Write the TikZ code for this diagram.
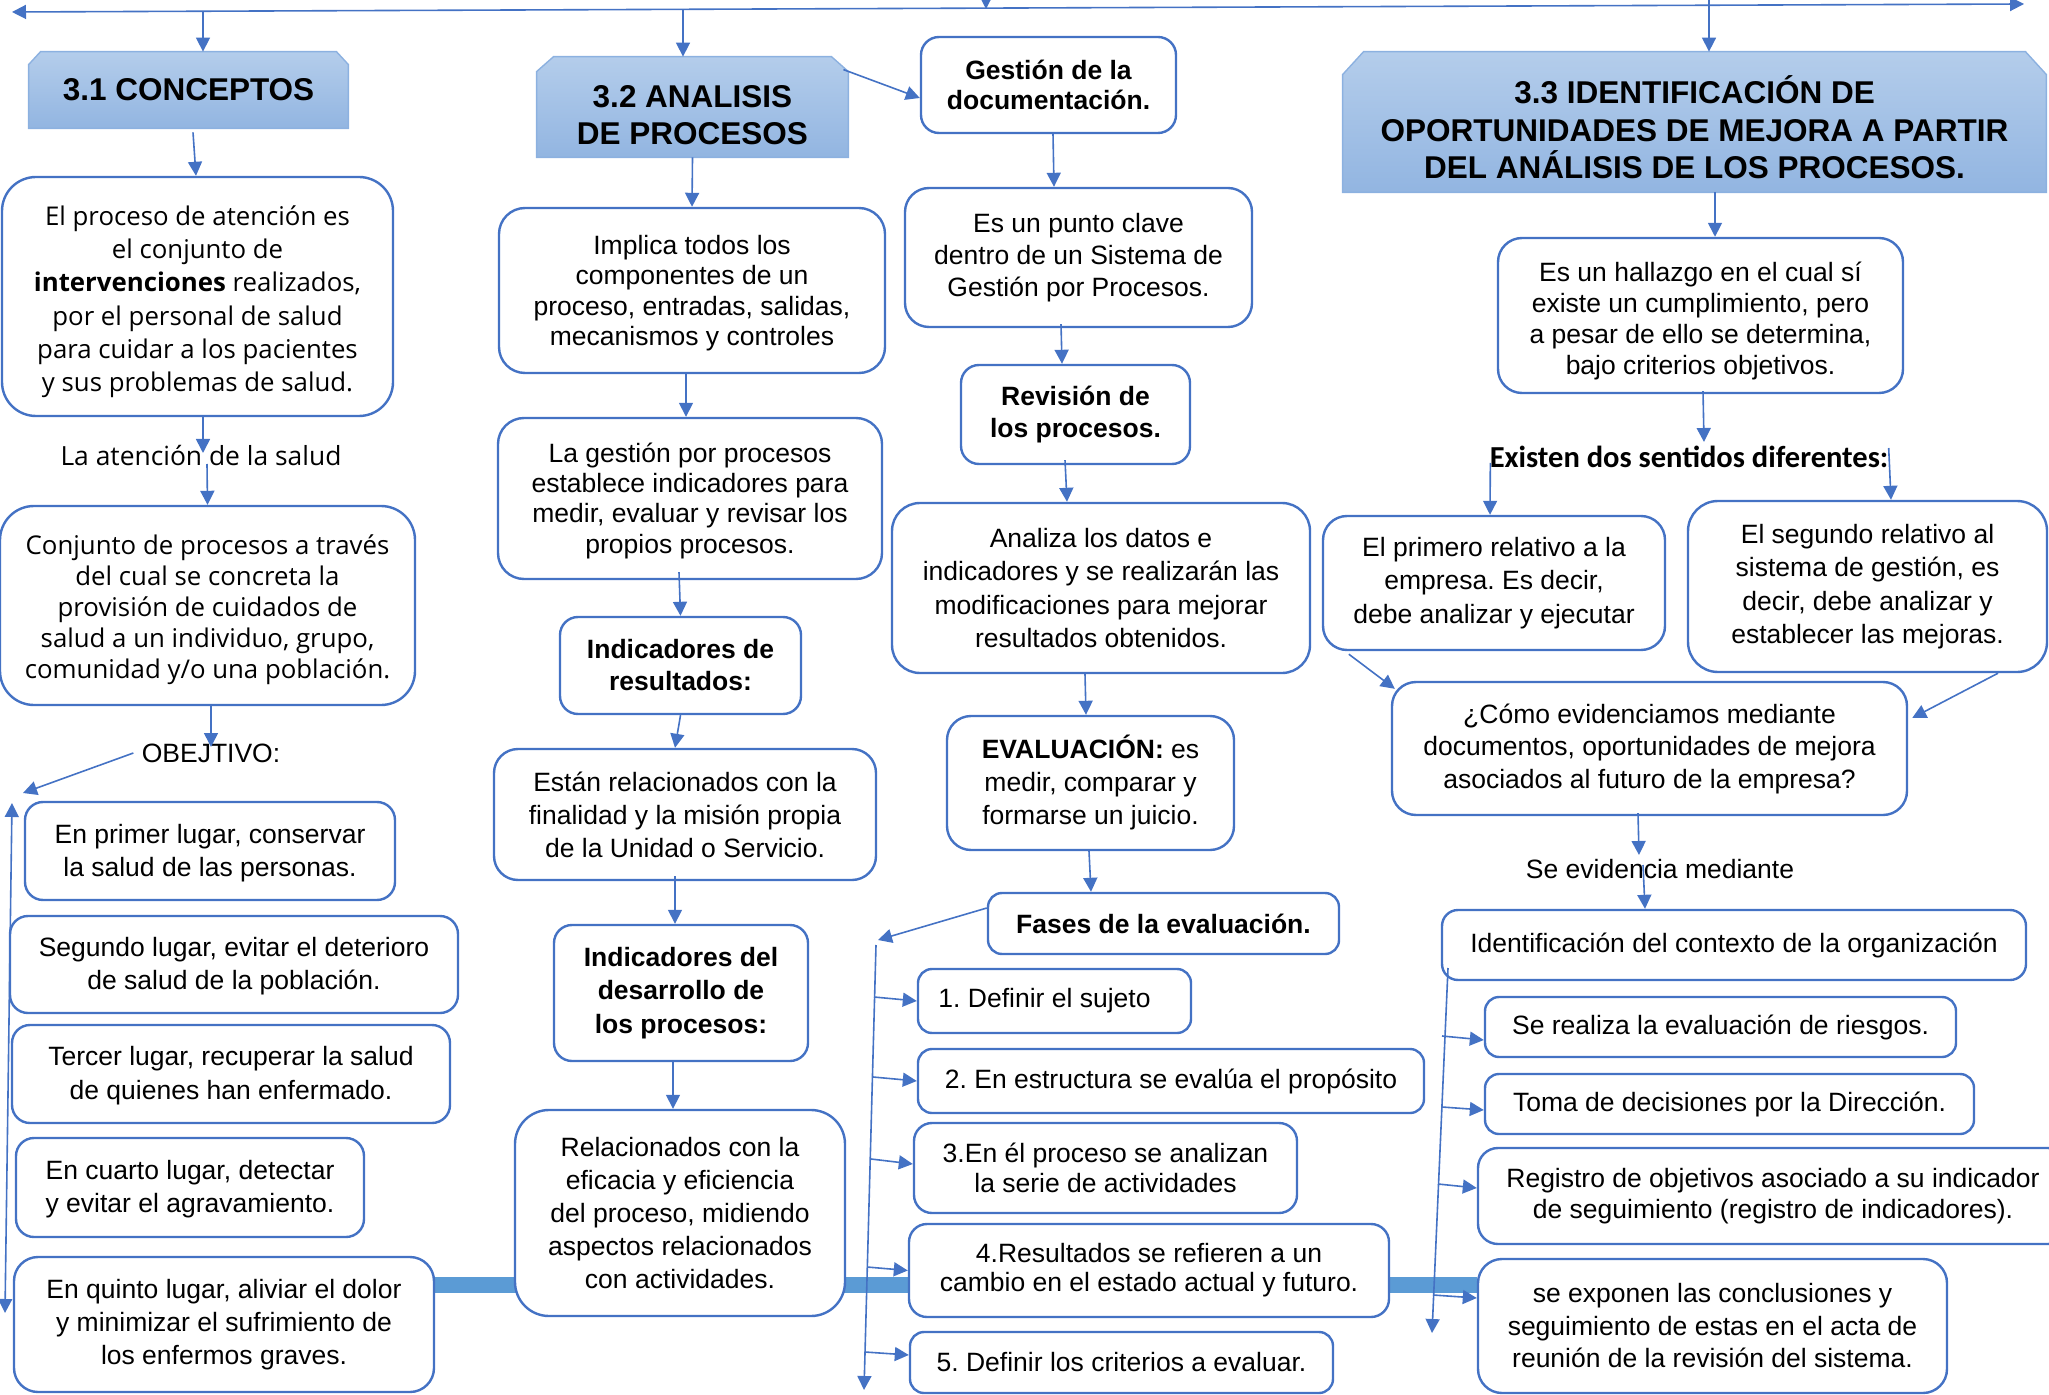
\documentclass[tikz,border=0pt]{standalone}
\usepackage{fontspec}
\setmainfont{Liberation Sans}
\newfontfamily\osans{Open Sans}
\newfontfamily\carl{Carlito}
\usetikzlibrary{arrows.meta,calc,backgrounds}
\frenchspacing
\definecolor{bblue}{HTML}{4472C4}
\definecolor{barblue}{HTML}{5B9BD5}
\definecolor{hdtop}{HTML}{B4CDEB}
\definecolor{hdbot}{HTML}{92B5E1}
\definecolor{hdline}{HTML}{8CB1E0}
\newcommand\bannerpath[3]{%
  \path[top color=hdtop,bottom color=hdbot,draw=hdline,line width=0.7pt]
  ([yshift=-#3]#1.north west) -- ([xshift=#2]#1.north west) -- ([xshift=-#2]#1.north east)
  -- ([yshift=-#3]#1.north east) -- (#1.south east) -- (#1.south west) -- cycle;}
\begin{document}
\begin{tikzpicture}[x=0.5pt,y=-0.5pt,
  box/.style={draw=bblue, line width=1.2pt, fill=white, rounded corners=9pt, align=center, inner sep=0pt,
    font=\fontsize{13.25pt}{16.5pt}\selectfont},
  sz/.style 2 args={minimum width=#1*0.5pt, minimum height=#2*0.5pt},
  ls/.style={font=\fontsize{13.25pt}{#1}\selectfont},
  bls/.style={font=\fontsize{13.25pt}{#1}\selectfont\bfseries},
  os/.style={font=\osans\fontsize{12.9pt}{#1}\selectfont},
  hd/.style={inner sep=0pt, align=center, font=\fontsize{15.75pt}{18.75pt}\selectfont\bfseries},
  lbl/.style={inner sep=0pt, font=\fontsize{13.25pt}{16.5pt}\selectfont},
  arr/.style={draw=bblue, line width=0.8pt, -{Triangle[length=7pt,width=7pt]}},
  arr2/.style={draw=bblue, line width=0.8pt, {Triangle[length=7pt,width=7pt]}-{Triangle[length=7pt,width=7pt]}},
  bar/.style={draw=barblue, line width=8pt}
]
\useasboundingbox (0,0) rectangle (2049,1395);
\clip (0,0) rectangle (2049,1395);

% headings
\node[hd, sz={319}{76}] (h31) at (188.5,90) {3.1 CONCEPTOS};
\node[hd, sz={311}{100}] (h32) at (692.5,107) {\rule{0pt}{19.3pt}3.2 ANALISIS\\DE PROCESOS};
\node[hd, sz={703}{140}] (h33) at (1694.5,122) {\rule{0pt}{19.4pt}3.3 IDENTIFICACIÓN DE\\OPORTUNIDADES DE MEJORA A PARTIR\\DEL ANÁLISIS DE LOS PROCESOS.};

% column 1
\node[box, sz={391}{239}, rounded corners=17pt, os=16.65pt] (b1) at (197.5,296.5)
  {\rule{0pt}{15pt}El proceso de atención es\\el conjunto de\\\textbf{intervenciones} realizados,\\por el personal de salud\\para cuidar a los pacientes\\y sus problemas de salud.};
\node[lbl, font=\osans\fontsize{13.2pt}{16pt}\selectfont] (lab1) at (201,456) {La atención de la salud};
\node[box, sz={415}{199}, rounded corners=17pt, os=15.5pt] (b2) at (207.5,605.5)
  {\rule{0pt}{14.2pt}Conjunto de procesos a través\\del cual se concreta la\\provisión de cuidados de\\salud a un individuo, grupo,\\comunidad y/o una población.};
\node[lbl] (obj) at (211,753) {OBEJTIVO:};
\node[box, sz={370}{98}, ls=16.75pt] (c1) at (210,851) {\rule{0pt}{11.8pt}En primer lugar, conservar\\la salud de las personas.};
\node[box, sz={448}{97}, ls=16.75pt] (c2) at (234,964.5) {\rule{0pt}{11.3pt}Segundo lugar, evitar el deterioro\\de salud de la población.};
\node[box, sz={438}{98}, ls=16.75pt] (c3) at (231,1074) {\rule{0pt}{11.3pt}Tercer lugar, recuperar la salud\\de quienes han enfermado.};
\node[box, sz={348}{99}, ls=16.75pt] (c4) at (190,1187.5) {\rule{0pt}{11.3pt}En cuarto lugar, detectar\\y evitar el agravamiento.};
\node[box, sz={420}{135}, rounded corners=12pt, ls=16.5pt] (c5) at (224,1324.5) {En quinto lugar, aliviar el dolor\\y minimizar el sufrimiento de\\los enfermos graves.};

% column 2
\node[box, sz={386}{165}, rounded corners=13pt, ls=15.25pt] (i1) at (692,290.5) {\rule{0pt}{12.5pt}Implica todos los\\componentes de un\\proceso, entradas, salidas,\\mecanismos y controles};
\node[box, sz={384}{161}, rounded corners=13pt, ls=15.2pt] (i2) at (690,498.5) {\rule{0pt}{12pt}La gestión por procesos\\establece indicadores para\\medir, evaluar y revisar los\\propios procesos.};
\node[box, sz={241}{97}, bls=16pt] (i3) at (680.5,665.5) {Indicadores de\\resultados:};
\node[box, sz={382}{131}, rounded corners=12pt, ls=16.5pt] (i4) at (685,814.5) {Están relacionados con la\\finalidad y la misión propia\\de la Unidad o Servicio.};
\node[box, sz={254}{136}, bls=16.75pt] (i5) at (681,993) {Indicadores del\\desarrollo de\\los procesos:};
\node[box, sz={330}{206}, rounded corners=17pt, ls=16.5pt] (i6) at (680,1213) {Relacionados con la\\eficacia y eficiencia\\del proceso, midiendo\\aspectos relacionados\\con actividades.};

% column 3
\node[box, sz={255}{96}, bls=15pt] (g1) at (1048.5,85) {Gestión de la\\documentación.};
\node[box, sz={347}{139}, rounded corners=12pt, ls=16pt] (g2) at (1078.5,257.5) {Es un punto clave\\dentro de un Sistema de\\Gestión por Procesos.};
\node[box, sz={229}{99}, bls=16pt] (g3) at (1075.5,414.5) {Revisión de\\los procesos.};
\node[box, sz={418}{170}, rounded corners=14pt, ls=16.65pt] (g4) at (1101,588) {Analiza los datos e\\indicadores y se realizarán las\\modificaciones para mejorar\\resultados obtenidos.};
\node[box, sz={287}{134}, rounded corners=12pt, ls=16.5pt] (g5) at (1090.5,783) {\textbf{EVALUACIÓN:} es\\medir, comparar y\\formarse un juicio.};
\node[box, sz={351}{61}, rounded corners=7pt, bls=16pt] (g6) at (1163.5,923.5) {Fases de la evaluación.};
\node[box, sz={273}{64}, rounded corners=7pt] (f1) at (1054.5,1001) {1. Definir el sujeto\hspace*{10pt}};
\node[box, sz={506}{64}, rounded corners=7pt] (f2) at (1171,1081) {2. En estructura se evalúa el propósito};
\node[box, sz={383}{90}, rounded corners=9pt, ls=15pt] (f3) at (1105.5,1168) {3.En él proceso se analizan\\la serie de actividades};
\node[box, sz={480}{93}, rounded corners=9pt, ls=14.5pt] (f4) at (1149,1270.5) {4.Resultados se refieren a un\\cambio en el estado actual y futuro.};
\node[box, sz={423}{61}, rounded corners=7pt] (f5) at (1121.5,1362.5) {5. Definir los criterios a evaluar.};

% column 4
\node[box, sz={405}{155}, rounded corners=12pt, ls=15.5pt] (r1) at (1700.5,315.5) {\rule{0pt}{14.8pt}Es un hallazgo en el cual sí\\existe un cumplimiento, pero\\a pesar de ello se determina,\\bajo criterios objetivos.};
\node[lbl, font=\carl\bfseries\fontsize{15.25pt}{18pt}\selectfont] (lab2) at (1689,457) {Existen dos sentidos diferentes:};
\node[box, sz={342}{134}, rounded corners=12pt, ls=16.75pt] (r2) at (1494,583) {El primero relativo a la\\empresa. Es decir,\\debe analizar y ejecutar};
\node[box, sz={359}{171}, rounded corners=15pt, ls=16.65pt] (r3) at (1867.5,586.5) {El segundo relativo al\\sistema de gestión, es\\decir, debe analizar y\\establecer las mejoras.};
\node[box, sz={515}{133}, rounded corners=12pt, ls=16.25pt] (r4) at (1649.5,748.5) {¿Cómo evidenciamos mediante\\documentos, oportunidades de mejora\\asociados al futuro de la empresa?};
\node[lbl] (lab3) at (1660,869) {Se evidencia mediante};
\node[box, sz={584}{70}, rounded corners=8pt] (r5) at (1734,945) {Identificación del contexto de la organización};
\node[box, sz={471}{60}, rounded corners=7pt] (r6) at (1720.5,1027) {Se realiza la evaluación de riesgos.};
\node[box, sz={489}{60}, rounded corners=7pt] (r7) at (1729.5,1104) {Toma de decisiones por la Dirección.};
\node[box, sz={590}{96}, rounded corners=10pt, ls=15.5pt] (r8) at (1773,1196) {Registro de objetivos asociado a su indicador\\de seguimiento (registro de indicadores).};
\node[box, sz={469}{134}, rounded corners=12pt, ls=16.25pt] (r9) at (1712.5,1326) {se exponen las conclusiones y\\seguimiento de estas en el acta de\\reunión de la revisión del sistema.};

% background: banners and bar
\begin{scope}[on background layer]
  \draw[bar] ([yshift=19.75pt]c5.east) -- ([yshift=20.5pt]r9.west);
  \bannerpath{h31}{6pt}{6.5pt}
  \bannerpath{h32}{8.5pt}{7.5pt}
  \bannerpath{h33}{10.5pt}{11.5pt}
\end{scope}

% free connector ends
\coordinate (tl) at (12,12);
\coordinate (tr) at (2024,4);
\coordinate (t1) at (203,11.3);
\coordinate (t2) at (683,9.4);
\coordinate (t3) at (1709,-2);
\coordinate (t4a) at (986,-12);
\coordinate (t4b) at (986,9);
\coordinate (objL) at (23,793);
\coordinate (vL1) at (12,803);
\coordinate (vL2) at (5,1313);
\coordinate (fT) at (878,940);
\coordinate (fV1) at (876,945);
\coordinate (fV2) at (864,1390);
\coordinate (fb1) at (874,997);
\coordinate (fb2) at (873,1077);
\coordinate (fb3) at (871,1159);
\coordinate (fb4) at (867,1267);
\coordinate (fb5) at (865,1352);
\coordinate (rV1) at (1448,968);
\coordinate (rV2) at (1432,1333);
\coordinate (rb1) at (1442,1036);
\coordinate (rb2) at (1442,1107);
\coordinate (rb3) at (1438,1184);
\coordinate (rb4) at (1433,1295);

% connectors
\draw[arr2] (tl) -- (tr);
\draw[arr] (t1) -- ([xshift=7.25pt]h31.north);
\draw[arr] (t2) -- ([xshift=-4.75pt]h32.north);
\draw[arr] (t3) -- ([xshift=7.25pt]h33.north);
\draw[arr] (t4a) -- (t4b);
\draw[arr] ([xshift=-2.5pt,yshift=-6.5pt]h32.north east) -- ([yshift=-6.5pt]g1.west);

\draw[arr] ([xshift=2.25pt,yshift=-2pt]h31.south) -- ([xshift=-0.75pt]b1.north);
\draw[arr] ([xshift=2.75pt]b1.south) -- ([xshift=1pt,yshift=1.5pt]lab1.center);
\draw[arr] ([xshift=3pt,yshift=-4pt]lab1.center) -- (b2.north);
\draw[arr] ([xshift=1.75pt]b2.south) -- ([yshift=3pt]obj.center);
\draw[arr] ([xshift=-4pt]obj.west) -- (objL);
\draw[arr2] (vL1) -- (vL2);

\draw[arr] (h32.south) -- (i1.north);
\draw[arr] ([xshift=-3pt]i1.south) -- ([xshift=-2pt]i2.north);
\draw[arr] ([xshift=-5.5pt,yshift=4pt]i2.south) -- (i3.north);
\draw[arr] (i3.south) -- ([xshift=-5pt]i4.north);
\draw[arr] ([xshift=-5pt,yshift=2.5pt]i4.south) -- ([xshift=-3pt]i5.north);
\draw[arr] ([xshift=-4pt]i5.south) -- ([xshift=-3.5pt]i6.north);

\draw[arr] ([xshift=2.25pt]g1.south) -- ([xshift=-12.25pt]g2.north);
\draw[arr] ([xshift=-8.75pt,yshift=2pt]g2.south) -- ([xshift=-6.75pt]g3.north);
\draw[arr] ([xshift=-5.25pt,yshift=2.5pt]g3.south) -- ([xshift=-17pt]g4.north);
\draw[arr] ([xshift=-8pt]g4.south) -- ([xshift=-2.25pt]g5.north);
\draw[arr] ([xshift=-0.75pt]g5.south) -- ([xshift=-36.25pt]g6.north);
\draw[arr] ([yshift=7.75pt]g6.west) -- (fT);
\draw[arr] (fV1) -- (fV2);
\draw[arr] (fb1) -- (f1.west);
\draw[arr] (fb2) -- (f2.west);
\draw[arr] (fb3) -- ([yshift=2pt]f3.west);
\draw[arr] (fb4) -- (f4.west);
\draw[arr] (fb5) -- ([yshift=3.75pt]f5.west);

\draw[arr] ([xshift=10.25pt]h33.south) -- ([xshift=7.25pt]r1.north);
\draw[arr] ([xshift=1.25pt,yshift=1.5pt]r1.south) -- ([xshift=7.5pt,yshift=7.5pt]lab2.center);
\draw[arr] ([xshift=0.5pt,yshift=-3pt]lab2.west) -- ([xshift=-2pt]r2.north);
\draw[arr] ([yshift=4.5pt]lab2.east) -- ([xshift=11.75pt]r3.north);
\draw[arr] ([xshift=13.5pt,yshift=-1.5pt]r2.south west) -- ([xshift=2pt,yshift=-4pt]r4.north west);
\draw[arr] ([xshift=65.25pt]r3.south) -- ([xshift=2pt,yshift=15.25pt]r4.east);
\draw[arr] ([xshift=-5.75pt,yshift=1.5pt]r4.south) -- ([xshift=-10.5pt,yshift=7pt]lab3.center);
\draw[arr] ([xshift=-8.5pt,yshift=2pt]lab3.center) -- ([xshift=-44.5pt]r5.north);
\draw[arr] (rV1) -- (rV2);
\draw[arr] (rb1) -- ([yshift=-6.5pt]r6.west);
\draw[arr] (rb2) -- ([yshift=-3pt]r7.west);
\draw[arr] (rb3) -- ([yshift=4pt]r8.west);
\draw[arr] (rb4) -- ([yshift=14pt]r9.west);
\end{tikzpicture}
\end{document}
